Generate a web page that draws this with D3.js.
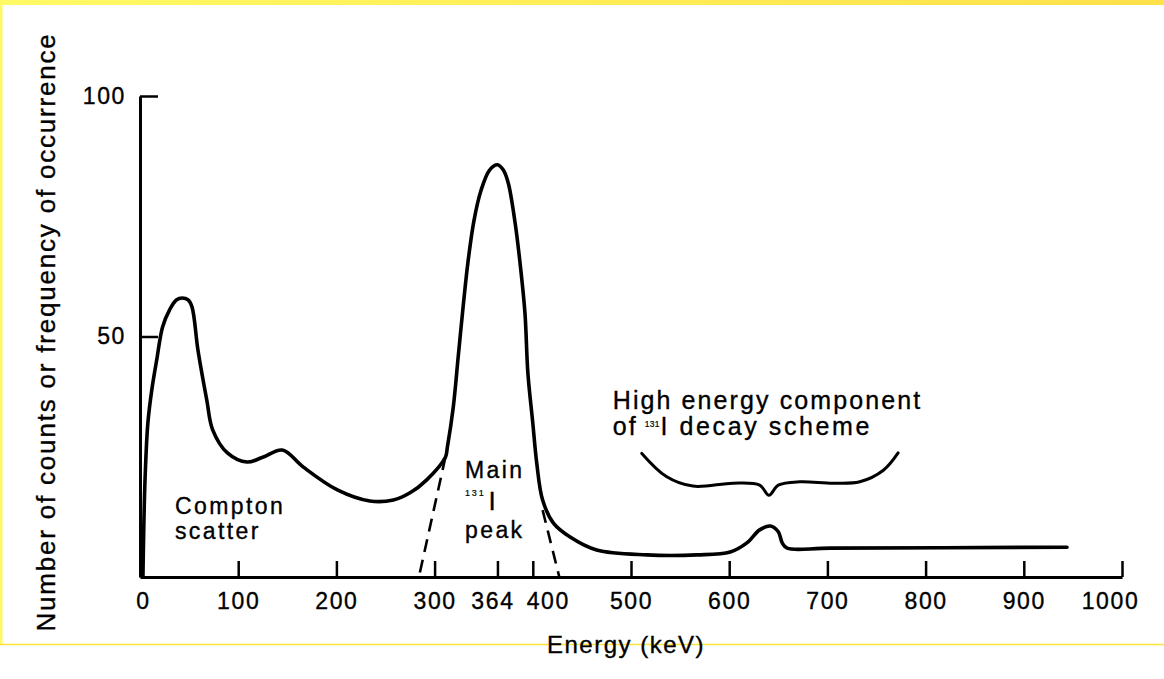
<!DOCTYPE html>
<html>
<head>
<meta charset="utf-8">
<script src="https://cdn.jsdelivr.net/npm/d3@7"></script>
<style>
  body { margin: 0; background: #fff; }
  svg text { font-family: "Liberation Sans", Arial, Helvetica, sans-serif; fill: #000; stroke: #000; stroke-width: 0.35; }
</style>
</head>
<body>
<script>
// spectrum (energy in keV, relative counts)
var energy = [3, 5, 8, 12, 17, 23, 30, 37, 43, 49, 53, 59, 68, 74, 89, 109, 125, 145, 166, 201, 234, 258, 275, 292, 311,
              313, 319, 324, 329, 334, 340, 347, 356, 364, 370, 375, 382, 387, 392, 395, 400, 404, 410, 421, 438, 465,
              516, 567, 601, 618, 631, 642, 650, 654, 659, 703, 944];
var counts = [0, 19.5, 32, 38.9, 45.1, 52, 55.5, 57.6, 58, 57.6, 56.1, 47.2, 36.8, 30.6, 25.8, 23.9, 24.9, 26.4, 22.9, 18.1, 15.8, 16, 17.5, 20.2, 24.9,
              27, 35.3, 45.7, 56.1, 65.5, 74, 80.2, 84.6, 85.7, 84.6, 81.9, 73.6, 65.3, 54.9, 42.4, 32, 23.7, 16, 11.2, 8.3, 5.6,
              4.6, 4.6, 5.2, 7.1, 9.8, 10.6, 9.4, 7.1, 6, 6, 6.2];

// dashed tails of the main photopeak
var leftTailE = [311, 284];
var leftTailC = [24.9, 0];
var rightTailE = [410, 427];
var rightTailC = [13.9, 0];

// brace over the high energy bump
var braceE = [511, 536, 563, 604, 631, 640.5, 650, 672, 706, 733, 757, 772];
var braceC = [25.7, 20.9, 18.9, 19.5, 19.1, 17.0, 19.1, 19.8, 19.5, 19.8, 22.2, 25.8];

var xTicks = [0, 100, 200, 300, 364, 400, 500, 600, 700, 800, 900, 1000];
var yTicks = [50, 100];

var W = 1164, H = 679;
var margin = {left:140, top:96};
var width = 982, height = 481;

var svg = d3.select("body").append("svg").attr("width", W).attr("height", H);

// scan frame (yellow edges)
var grad = svg.append("defs").append("linearGradient").attr("id", "topband");
grad.append("stop").attr("offset", "0%").attr("stop-color", "#fffa66");
grad.append("stop").attr("offset", "100%").attr("stop-color", "#ffe14a");
svg.append("rect").attr("x", 0).attr("y", 0).attr("width", W).attr("height", 5).attr("fill", "url(#topband)");
svg.append("rect").attr("x", 0).attr("y", 0).attr("width", 2.5).attr("height", 645).attr("fill", "#fff966");
svg.append("line").attr("x1", 0).attr("x2", W).attr("y1", 644.5).attr("y2", 644.5)
   .attr("stroke", "#ffe23a").attr("stroke-width", 1.5);

var x = d3.scaleLinear().domain([0, 1000]).range([0, width]);
var y = d3.scaleLinear().domain([0, 100]).range([height, 0]);

var g = svg.append("g").attr("transform", "translate(" + margin.left + "," + margin.top + ")");

// axes
var xAxis = d3.axisBottom(x).tickValues(xTicks).tickFormat(d3.format("d"))
  .tickSizeInner(-16).tickSizeOuter(0).tickPadding(16);
var yAxis = d3.axisLeft(y).tickValues(yTicks).tickFormat(d3.format("d"))
  .tickSizeInner(-18).tickSizeOuter(0).tickPadding(14);

var gx = g.append("g").attr("transform", "translate(0," + height + ")").call(xAxis);
var gy = g.append("g").call(yAxis);

[gx, gy].forEach(function(a) {
  a.select(".domain").attr("stroke", "#000").attr("stroke-width", 3);
  a.selectAll(".tick line").attr("stroke", "#000").attr("stroke-width", 2.5);
  a.selectAll(".tick text").attr("font-size", 23).attr("letter-spacing", 1.6)
   .attr("font-family", "Liberation Sans, Arial, sans-serif").attr("fill", "#000");
});
// hand lettered labels sit a bit off their ticks in the original
gx.selectAll(".tick text").attr("dx", function(d) { return d === 364 ? -5 : d === 400 ? 15 : d === 1000 ? -12 : d === 0 ? 3 : 0; });
gx.selectAll(".tick").filter(function(d) { return d === 0; }).select("line").remove();

// spectrum
var line = d3.line()
  .x(function(d, i) { return x(energy[i]); })
  .y(function(d) { return y(d); })
  .curve(d3.curveCatmullRom.alpha(0.5));

g.append("path").attr("d", line(counts))
  .attr("fill", "none").attr("stroke", "#000").attr("stroke-width", 3.6)
  .attr("stroke-linejoin", "round").attr("stroke-linecap", "round");

function plain(ex, cy) {
  return d3.line().x(function(d, i) { return x(ex[i]); }).y(function(d) { return y(d); })(cy);
}
[[leftTailE, leftTailC], [rightTailE, rightTailC]].forEach(function(t) {
  g.append("path").attr("d", plain(t[0], t[1]))
    .attr("fill", "none").attr("stroke", "#000").attr("stroke-width", 2.6)
    .attr("stroke-dasharray", "13,8");
});

var brace = d3.line()
  .x(function(d, i) { return x(braceE[i]); })
  .y(function(d) { return y(d); })
  .curve(d3.curveCatmullRom.alpha(0.5));
g.append("path").attr("d", brace(braceC))
  .attr("fill", "none").attr("stroke", "#000").attr("stroke-width", 3)
  .attr("stroke-linecap", "round");

// annotations
function label(txt, e, c, size, ls) {
  return g.append("text").attr("x", x(e)).attr("y", y(c))
    .attr("font-size", size).attr("letter-spacing", ls).text(txt);
}
label("Compton", 35.6, 13.1, 23, 2.4);
label("scatter", 35.6, 7.9, 23, 2.4);

label("Main", 331, 20.6, 23, 2.4);
label("131", 331, 16.8, 9, 1.8).style("stroke-width", 0.2);
label("I", 355, 13.9, 26, 0);
label("peak", 331, 8.1, 23, 2.4);

label("High energy component", 481.4, 34.9, 25, 2.1);
label("of", 481.4, 29.5, 25, 2.1);
label("131", 514, 31.2, 8.5, 0.3).style("stroke-width", 0.2);
label("I decay scheme", 530, 29.5, 25, 2.6);

// axis titles
svg.append("text").attr("x", 626).attr("y", 653).attr("text-anchor", "middle")
  .attr("font-size", 24).attr("letter-spacing", 1.5).text("Energy (keV)");
svg.append("text").attr("transform", "translate(55,332) rotate(-90)").attr("text-anchor", "middle")
  .attr("font-size", 26).attr("letter-spacing", 1.8).text("Number of counts or frequency of occurrence");
</script>
</body>
</html>
